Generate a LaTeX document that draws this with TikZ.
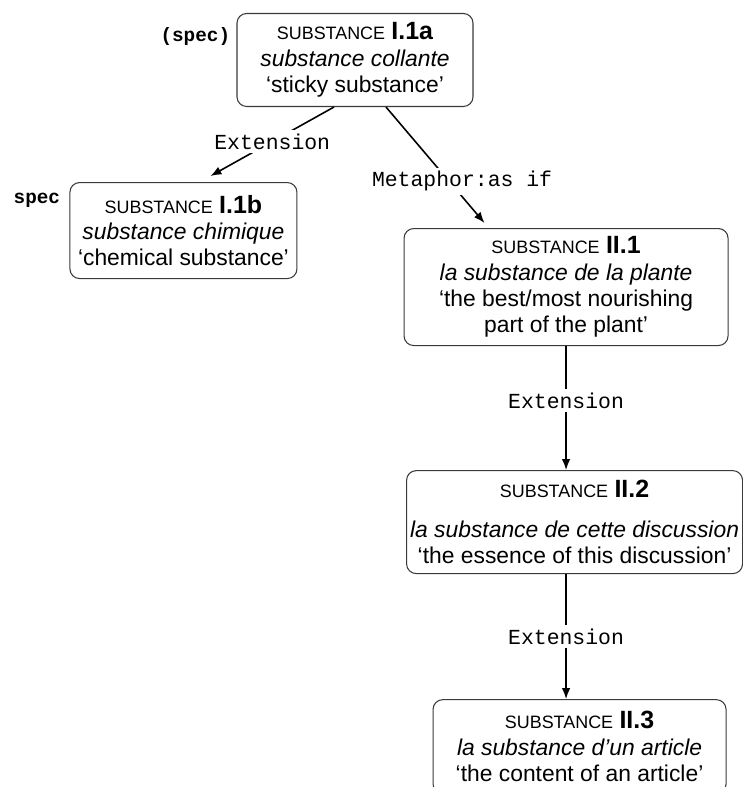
\documentclass[tikz,border=0pt]{standalone}
\usepackage{fontspec}
\setmainfont{Liberation Sans}
\setmonofont{Liberation Mono}
\usetikzlibrary{arrows.meta,positioning}
\definecolor{boxline}{HTML}{3A3A3A}

\newcommand{\sensehead}[1]{{\fontsize{10.2}{12}\selectfont SUBSTANCE} {\fontsize{14.2}{16}\selectfont\bfseries #1}}

\begin{document}
\begin{tikzpicture}[font=\fontsize{13}{15}\selectfont,
  sense/.style={draw=boxline, line width=0.6pt, rounded corners=5.5pt, align=center, inner sep=2pt},
  link/.style={-{Latex[length=2.2mm,width=1.7mm]}, line width=0.9pt},
  relname/.style={font=\ttfamily\fontsize{12.2}{14}\selectfont, fill=white, inner sep=2pt},
  speclabel/.style={font=\ttfamily\bfseries\fontsize{11}{13}\selectfont, inner sep=0pt}]

  \useasboundingbox (-7.1,1.2) rectangle (7.74,-14.54);

  \node[sense, minimum width=4.72cm, minimum height=1.86cm] (sub1a) at (0,0) {
    \sensehead{I.1a}\\
    \textit{substance collante}\\
    ‘sticky substance’
  };
  \node[sense, minimum width=4.54cm, minimum height=1.92cm, below left=1.5cm and -1.22cm of sub1a] (sub1b) {
    \sensehead{I.1b}\\
    \textit{substance chimique}\\
    ‘chemical substance’
  };
  \node[sense, minimum width=6.48cm, minimum height=2.34cm, below right=2.42cm and -1.4cm of sub1a] (sub21) {
    \sensehead{II.1}\\
    \textit{la substance de la plante}\\
    ‘the best/most nourishing\\
    part of the plant’
  };
  \node[sense, minimum width=6.7cm, minimum height=2.06cm, below=2.48cm of sub21, xshift=0.17cm] (sub22) {
    \sensehead{II.2}\\[0.26cm]
    \textit{la substance de cette discussion}\\
    ‘the essence of this discussion’
  };
  \node[sense, minimum width=5.86cm, minimum height=1.88cm, below=2.5cm of sub22, xshift=0.1cm] (sub23) {
    \sensehead{II.3}\\
    \textit{la substance d’un article}\\
    ‘the content of an article’
  };

  \node[speclabel, left=0.12cm of sub1a.north west, yshift=-0.48cm] (spec1a) {(spec)};
  \node[speclabel, left=0.18cm of sub1b.north west, yshift=-0.36cm] (spec1b) {spec};

  \draw[link] ([xshift=-0.42cm]sub1a.south) -- node[relname] {Extension} ([xshift=0.54cm,yshift=0.12cm]sub1b.north);
  \draw[link] ([xshift=0.62cm]sub1a.south) -- node[relname, pos=0.64, xshift=0.26cm] {Metaphor:as if} ([xshift=1.62cm,yshift=0.1cm]sub21.north west);
  \draw[link] (sub21.south) -- node[relname, pos=0.44] {Extension} (sub21.south |- sub22.north);
  \draw[link] (sub21.south |- sub22.south) -- node[relname] {Extension} (sub21.south |- sub23.north);
\end{tikzpicture}
\end{document}
